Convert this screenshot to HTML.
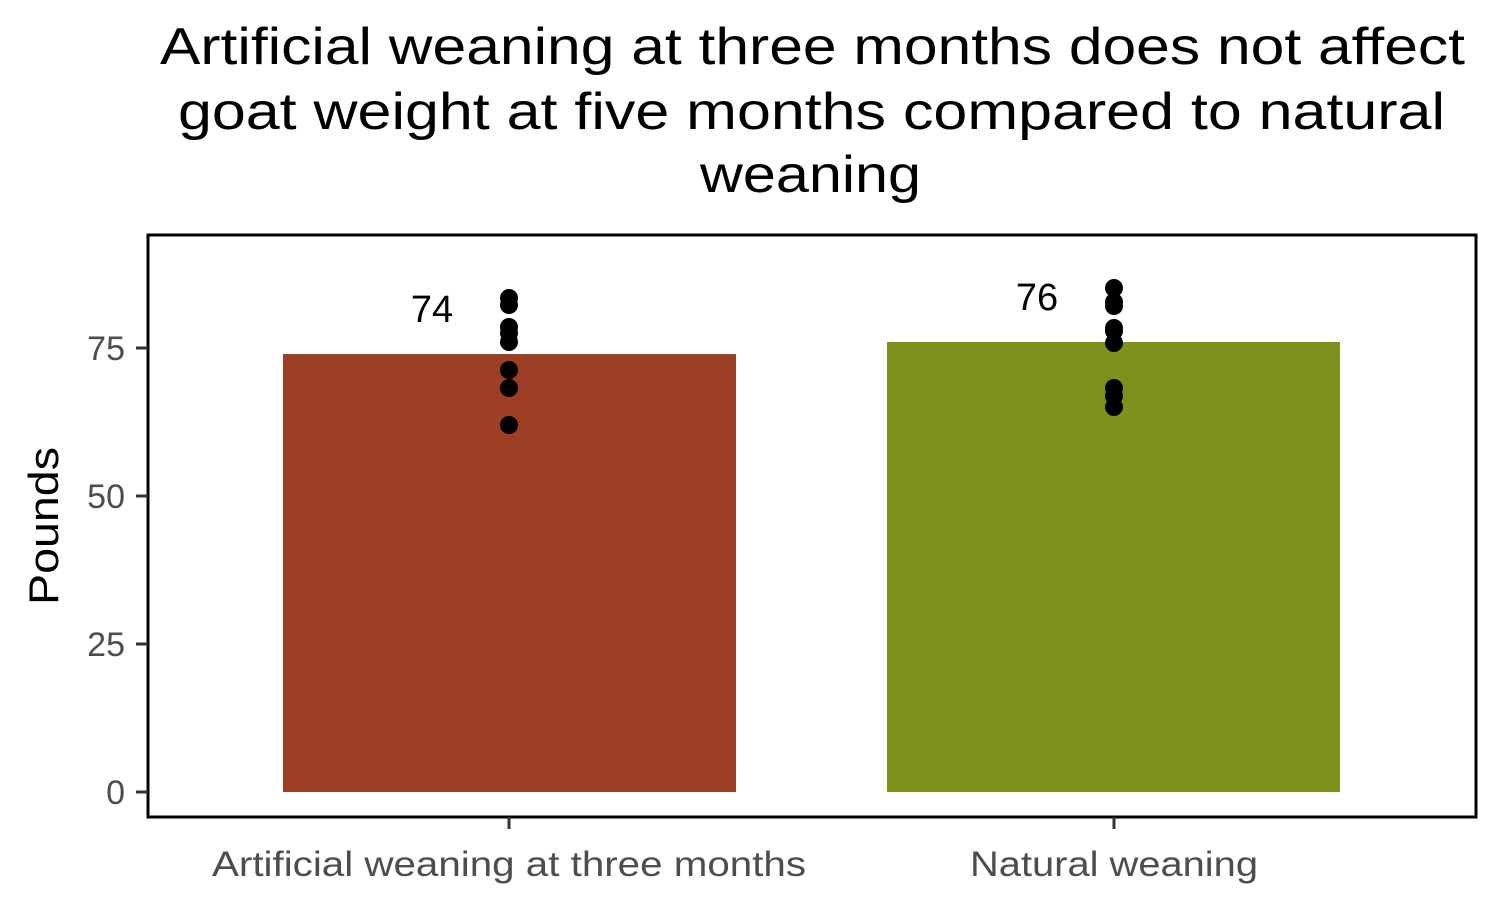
<!DOCTYPE html>
<html><head><meta charset="utf-8"><style>html,body{margin:0;padding:0;background:#fff}</style></head>
<body>
<svg width="1500" height="900" viewBox="0 0 1500 900" xmlns="http://www.w3.org/2000/svg" font-family="Liberation Sans, DejaVu Sans, sans-serif">
<rect width="1500" height="900" fill="#fff"/>
<g font-size="52" fill="#000">
<text x="160" y="64" textLength="1305" lengthAdjust="spacingAndGlyphs">Artificial weaning at three months does not affect</text>
<text x="178" y="129" textLength="1267" lengthAdjust="spacingAndGlyphs">goat weight at five months compared to natural</text>
<text x="700" y="192" textLength="221" lengthAdjust="spacingAndGlyphs">weaning</text>
</g>
<rect x="283" y="354" width="453" height="438" fill="#9C3F24"/>
<rect x="887" y="342" width="453" height="450" fill="#80901D"/>
<g fill="#000">
<circle cx="509" cy="298" r="9"/><circle cx="509" cy="305" r="9"/><circle cx="509" cy="327" r="9"/><circle cx="509" cy="333" r="9"/><circle cx="509" cy="342" r="9"/><circle cx="509" cy="370" r="9"/><circle cx="509" cy="388" r="9"/><circle cx="509" cy="425" r="9"/>
<circle cx="1114" cy="288" r="9"/><circle cx="1114" cy="302" r="9"/><circle cx="1114" cy="306" r="9"/><circle cx="1114" cy="328" r="9"/><circle cx="1114" cy="331" r="9"/><circle cx="1114" cy="343" r="9"/><circle cx="1114" cy="388" r="9"/><circle cx="1114" cy="396" r="9"/><circle cx="1114" cy="407" r="9"/>
</g>
<g font-size="38" text-anchor="middle" fill="#000">
<text x="432" y="322">74</text>
<text x="1037" y="310">76</text>
</g>
<rect x="148" y="235" width="1328" height="582" fill="none" stroke="#000" stroke-width="3"/>
<g stroke="#333" stroke-width="3">
<line x1="136" y1="348" x2="148" y2="348"/><line x1="136" y1="496" x2="148" y2="496"/><line x1="136" y1="644" x2="148" y2="644"/><line x1="136" y1="792" x2="148" y2="792"/>
<line x1="509" y1="817" x2="509" y2="829"/><line x1="1114" y1="817" x2="1114" y2="829"/>
</g>
<g font-size="34" fill="#4d4d4d" text-anchor="end">
<text x="125" y="360">75</text><text x="125" y="508">50</text><text x="125" y="656">25</text><text x="125" y="804">0</text>
</g>
<g font-size="35" fill="#4d4d4d">
<text x="212" y="876" textLength="594" lengthAdjust="spacingAndGlyphs">Artificial weaning at three months</text>
<text x="970" y="876" textLength="288" lengthAdjust="spacingAndGlyphs">Natural weaning</text>
</g>
<text transform="translate(58,605) rotate(-90)" font-size="42" fill="#000" textLength="158" lengthAdjust="spacingAndGlyphs">Pounds</text>
</svg>
</body></html>
